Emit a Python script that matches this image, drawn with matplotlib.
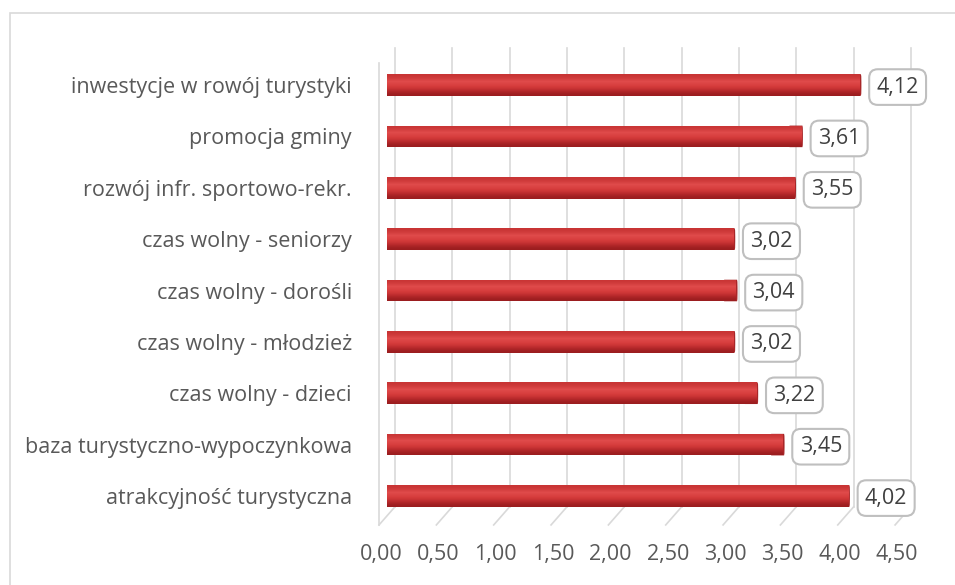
import numpy as np
import matplotlib
matplotlib.use("Agg")
import matplotlib.pyplot as plt
import matplotlib.transforms as mtransforms
from matplotlib.patches import Rectangle

plt.rcParams['font.family'] = ['Open Sans', 'DejaVu Sans']

categories = ["atrakcyjność turystyczna", "baza turystyczno-wypoczynkowa",
              "czas wolny - dzieci", "czas wolny - młodzież", "czas wolny - dorośli",
              "czas wolny - seniorzy", "rozwój infr. sportowo-rekr.",
              "promocja gminy", "inwestycje w rowój turystyki"]
values = [4.02, 3.45, 3.22, 3.02, 3.04, 3.02, 3.55, 3.61, 4.12]
ticks = [0.0, 0.5, 1.0, 1.5, 2.0, 2.5, 3.0, 3.5, 4.0, 4.5]

W, H = 955, 585
fig = plt.figure(figsize=(W / 100, H / 100), dpi=100)

# outer chart frame
fig.patches.append(Rectangle((10 / W, -0.1), 2, 1 - 13 / H + 0.1, transform=fig.transFigure,
                             fill=False, edgecolor="#d9d9d9", lw=1.2))

ax = fig.add_axes([381 / W, 63.3 / H, 522 / W, 462.4 / H])
ax.set_xlim(0, 4.5)
ax.set_ylim(-0.5, len(categories) - 0.5)
for s in ax.spines.values():
    s.set_visible(False)

px = 4.5 / 522  # one pixel in data units
bt = mtransforms.blended_transform_factory(ax.transData, ax.transAxes)

# back wall gridlines and floor stubs (3D look)
for t in ticks:
    ax.plot([t + 8 * px, t + 8 * px], [0.032, 1.025], color="#d9d9d9", lw=1.2,
            transform=bt, clip_on=False, zorder=0)
    ax.plot([t - 8 * px, t + 8 * px], [-0.007, 0.032], color="#d9d9d9", lw=1.2,
            transform=bt, clip_on=False, zorder=0)
ax.plot([-8 * px, -8 * px], [-0.007, 0.991], color="#d9d9d9", lw=1.2,
        transform=bt, clip_on=False, zorder=0)

# bars with vertical gradient
y = np.arange(len(categories))
bars = ax.barh(y, values, height=0.42, color="#c0282c", edgecolor="none", zorder=2)
grad = np.array([[0.0], [0.35], [0.55], [0.8], [1.0]])
cmap = matplotlib.colors.LinearSegmentedColormap.from_list(
    "r", ["#9a1d1f", "#b92a2c", "#d63c3c", "#e04b4b", "#c83434"])
for b in bars:
    x0, y0, w, h = b.get_x(), b.get_y(), b.get_width(), b.get_height()
    im = ax.imshow(grad, extent=[x0, x0 + w, y0, y0 + h], origin="lower",
                   aspect="auto", cmap=cmap, zorder=3, interpolation="bicubic")
    im.set_clip_path(b)
    # end cap
    ax.add_patch(matplotlib.patches.FancyBboxPatch(
        (x0 + w - 12 * px, y0), 14 * px, h,
        boxstyle="round,pad=0,rounding_size=0.004", facecolor="#a82628",
        edgecolor="none", zorder=2.5, mutation_aspect=40))

ax.set_xlim(0, 4.5)
ax.set_ylim(-0.5, len(categories) - 0.5)

# value labels
for yi, v in zip(y, values):
    ax.annotate("{:.2f}".format(v).replace(".", ","), xy=(v, yi), xytext=(27.5, -1.5),
                textcoords="offset points", ha="center", va="center",
                fontsize=15.5, color="#404040", zorder=5,
                bbox=dict(boxstyle="round,pad=0.34,rounding_size=0.4", fc="white",
                          ec="#bfbfbf", lw=1.5))

ax.set_yticks(y)
ax.set_yticklabels(categories, fontsize=15.5, color="#595959")
ax.tick_params(axis="y", length=0, pad=21)
ax.set_xticks([t - 6 * px for t in ticks])
ax.set_xticklabels(["{:.2f}".format(t).replace(".", ",") for t in ticks],
                   fontsize=15.5, color="#595959")
ax.tick_params(axis="x", length=0, pad=16)

fig.savefig("out.png", dpi=100)
